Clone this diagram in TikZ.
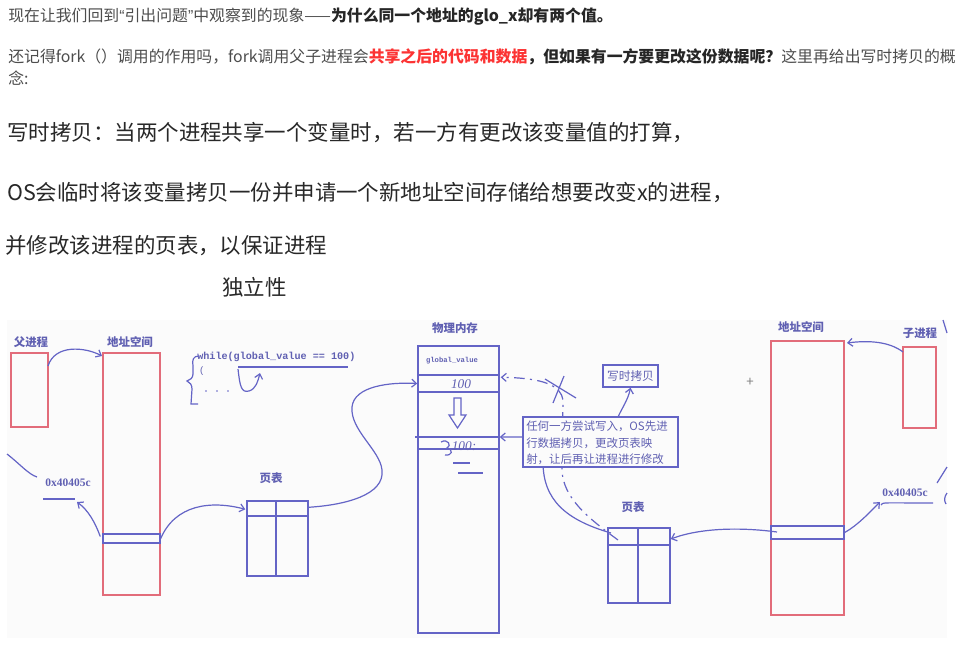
\documentclass[tikz,border=0pt]{standalone}
\usepackage{fontspec}
\setmainfont{Noto Sans CJK SC}
\newfontfamily\codefont{Liberation Mono}
\newfontfamily\serifnum{Liberation Serif}
\newfontfamily\latinsans{Liberation Sans}
\usetikzlibrary{arrows.meta,fit,calc}
\definecolor{pen}{RGB}{100,100,198}
\definecolor{redpen}{RGB}{226,108,122}
\definecolor{lab}{RGB}{96,96,178}
\definecolor{txt}{RGB}{77,77,77}
\definecolor{hot}{RGB}{252,51,51}
\definecolor{dark}{RGB}{40,40,40}
\definecolor{bg}{RGB}{251,251,251}
\newcommand\topfont{\fontsize{11.9}{14}\selectfont}
\newcommand\bigfont{\fontsize{16.1}{20}\selectfont}
\newcommand\lblfont{\fontsize{8.6}{10}\selectfont\bfseries}
\begin{document}
\begin{tikzpicture}[x=0.75pt,y=-0.75pt,
  redbox/.style={draw=redpen, line width=1.5pt, inner sep=0pt},
  bluebox/.style={draw=pen, line width=1.1pt, inner sep=0pt},
  penline/.style={draw=pen, line width=0.9pt},
  arr/.style={penline, -{Straight Barb[length=3.5pt,width=6pt]}},
  lbl/.style={text=lab, font=\lblfont, inner sep=0pt},
  toptext/.style={anchor=west, inner sep=0pt, font=\topfont, text=txt},
  bigtext/.style={anchor=west, inner sep=0pt, font=\bigfont, text=dark},
  ]
\useasboundingbox (0,0) rectangle (978,665);
\fill[white] (0,0) rectangle (978,665);

% ---------- article text ----------
\node[toptext] (t1) at (8,17) {现在让我们回到{\latinsans “}引出问题{\latinsans ”}中观察到的现象——\textbf{\color{black!85}为什么同一个地址的glo\_x却有两个值。}};
\node[toptext] (t2) at (8,57) {还记得fork（）调用的作用吗，fork调用父子进程会\textbf{\color{hot}共享之后的代码和数据}\textbf{\color{black!85}，但如果有一方要更改这份数据呢？}这里再给出写时拷贝的概};
\node[toptext] (t3) at (8,78) {念:};

\node[bigtext] (b1) at (7,133) {写时拷贝：当两个进程共享一个变量时，若一方有更改该变量值的打算，};
\node[bigtext] (b2) at (7,193) {OS会临时将该变量拷贝一份并申请一个新地址空间存储给想要改变x的进程，};
\node[bigtext] (b3) at (5,246) {并修改该进程的页表，以保证进程};
\node[bigtext] (b4) at (222,287) {独立性};

% ---------- diagram background ----------
\fill[bg] (7,320) rectangle (947,638);

% ---------- left side ----------
\node[lbl] (lfp) at (31,342) {父进程};
\node[redbox, fit={(11,353) (48,427)}] (fp) {};
\node[lbl] (las) at (130,342) {地址空间};
\node[redbox, fit={(103,353) (160,595)}] (asL) {};
\node[bluebox, fit={(103,534) (160,543)}] (rowL) {};
\draw[arr] (48,366) .. controls (55,344) and (85,347) .. (102,356);

\node[anchor=west, inner sep=0pt, text=lab, font=\codefont\bfseries\fontsize{7.6}{9}\selectfont] (code) at (197,357) {while(global\_value == 100)};
\draw[penline] (238,367) -- (348,367);
\draw[penline] (199,356) .. controls (193,356) and (192,360) .. (193,366) -- (193,374)
  .. controls (193,378) and (190,380) .. (187,381) .. controls (190,382) and (192,385) .. (192,389)
  -- (191,404) -- (198,404);
\node[text=lab, inner sep=0pt, font=\codefont\fontsize{7}{8}\selectfont] (paren) at (202,371) {(};
\foreach \dx in {206,217,228} \fill[pen] (\dx,391) circle (0.9);
\draw[arr] (238,369) .. controls (240,386) and (241,393) .. (249,391) .. controls (256,389) and (258,381) .. (260,373);

\node[text=lab, inner sep=0pt, font=\serifnum\bfseries\fontsize{8.6}{10}\selectfont] (addrL) at (68,483) {0x40405c};
\draw[penline] (43,499) -- (75,499);
\draw[penline] (7,454) .. controls (20,464) and (28,474) .. (37,477);
\draw[arr] (rowL.west) ++(-2,-2) .. controls (95,522) and (88,510) .. (77,502);

\node[lbl] (lptL) at (271,478) {页表};
\node[bluebox, fit={(247,501) (308,576)}] (ptL) {};
\draw[penline] (276,501) -- (276,576);
\draw[penline] (247,516) -- (308,516);
\draw[arr] (rowL.east) .. controls (175,505) and (210,500) .. ($(ptL.north west)+(-1,9)$);

% ---------- physical memory ----------
\node[lbl] (lpm) at (455,328) {物理内存};
\node[bluebox, fit={(418,346) (499,633)}] (pm) {};
\node[bluebox, fit={(418,346) (499,375)}] (pmG) {};
\node[text=lab, inner sep=0pt, font=\codefont\bfseries\fontsize{5.4}{6}\selectfont] (gv) at (452,361) {global\_value};
\node[bluebox, fit={(418,375) (499,392)}] (pm100) {};
\node[text=lab, inner sep=0pt, font=\serifnum\itshape\fontsize{10}{10}\selectfont] (v100) at (461,384) {100};
\draw[penline] (454,398) -- (461,398) -- (461,415) -- (466,415) -- (457.5,428) -- (449,415) -- (454,415) -- cycle;
\draw[penline] (415,437) -- (499,437);
\draw[penline] (418,449) -- (499,449);
\node[text=lab, inner sep=0pt, font=\serifnum\itshape\fontsize{10}{10}\selectfont] (vnew) at (464,446) {100:};
\draw[penline] (441,442) .. controls (448,438) and (452,446) .. (447,448) .. controls (454,450) and (452,456) .. (445,455);
\draw[penline] (453,463) -- (470,463);
\draw[penline] (458,473) -- (483,473);

\draw[arr] ($(ptL.north east)+(0,7)$) .. controls (345,505) and (385,495) .. (382,470)
  .. controls (380,450) and (350,430) .. (352,407) .. controls (354,386) and (390,382) .. (pm100.west);

% ---------- right page table and notes ----------
\node[lbl] (lptR) at (633,507) {页表};
\node[bluebox, fit={(608,528) (670,603)}] (ptR) {};
\draw[penline] (638,528) -- (638,603);
\draw[penline] (608,545) -- (670,545);

\draw[penline, dash pattern=on 8pt off 4pt on 1.5pt off 4pt, -{Straight Barb[length=3.5pt,width=6pt]}]
  (618,540) .. controls (588,518) and (563,498) .. (562,470) -- (563,400)
  .. controls (561,386) and (545,378) .. ($(pm100.north east)+(1,3)$);
\draw[penline] (545,379) -- (576,398);
\draw[penline] (564,376) -- (553,403);

\draw[arr] (611,533) .. controls (566,520) and (543,500) .. (543,462)
  .. controls (543,446) and (536,437) .. (523,437) -- (pm.east |- 0,437);

\node[bluebox, fill=bg, fit={(603,365) (658,387)}] (cow) {};
\node[text=lab, inner sep=0pt, font=\fontsize{8.8}{10}\selectfont] at (cow.center) {写时拷贝};
\node[bluebox, fill=bg, fit={(523,417) (678,467)}] (note) {};
\node[anchor=north west, inner sep=0pt, text=lab, align=left,
  font=\fontsize{8.6}{12.2}\selectfont] (notetext) at (526,421)
  {任何一方尝试写入，OS先进\\行数据拷贝，更改页表映\\射，让后再让进程进行修改};
\draw[arr] (618,417) .. controls (622,408) and (628,400) .. (cow.south);

% ---------- right side ----------
\node[lbl] (lasR) at (801,327) {地址空间};
\node[redbox, fit={(771,341) (844,615)}] (asR) {};
\node[bluebox, fit={(771,526) (844,539)}] (rowR) {};
\node[lbl] (lcp) at (920,333) {子进程};
\node[redbox, fit={(903,347) (936,428)}] (cp) {};
\draw[arr] (903,352) .. controls (890,342) and (870,340) .. (847,343);
\draw[arr] (777,532) .. controls (740,527) and (700,528) .. (ptR.east |- 0,539);

\node[text=gray, inner sep=0pt, font=\fontsize{10}{10}\selectfont] (cursor) at (750,382) {+};

\node[text=lab, inner sep=0pt, font=\serifnum\bfseries\fontsize{8.6}{10}\selectfont] (addrR) at (905,493) {0x40405c};
\draw[penline] (881,505) .. controls (882,502) and (884,503) .. (933,503);
\draw[arr] (rowR.east) .. controls (858,525) and (870,512) .. (880,502);
\draw[penline] (937,483) -- (947,467);
\draw[penline] (947,493) .. controls (944,497) and (944,501) .. (946,504);
\draw[penline] (943,320) -- (947,333);
\end{tikzpicture}
\end{document}
